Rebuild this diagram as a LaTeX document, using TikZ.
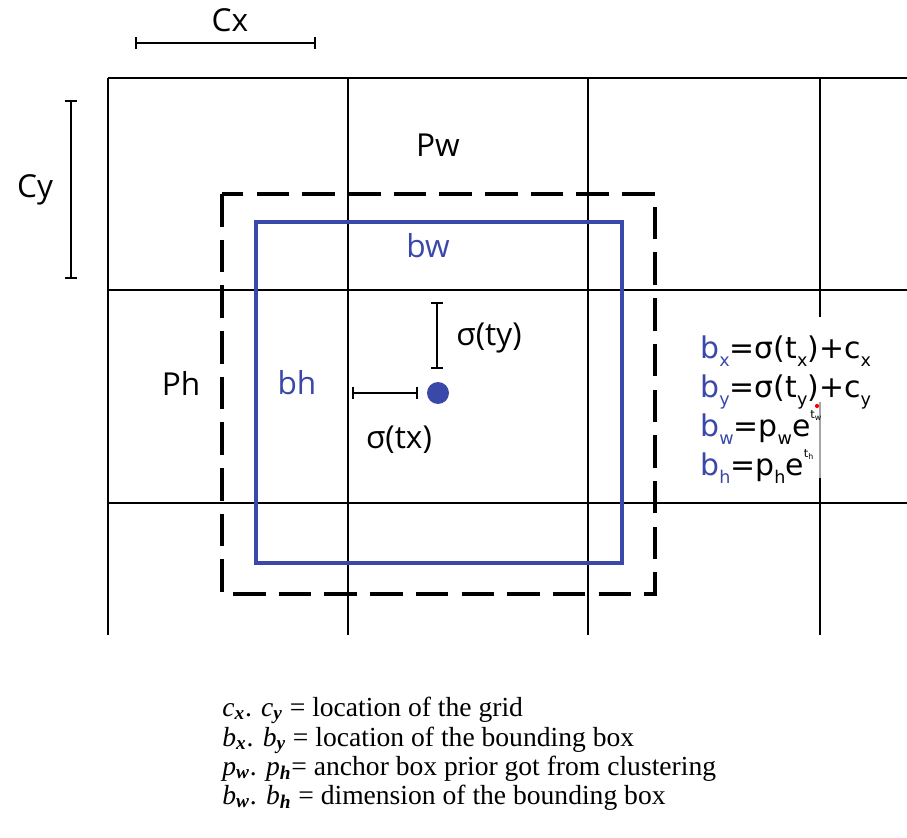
\documentclass[tikz,border=0pt]{standalone}
\usepackage{fontspec}
\setmainfont{Liberation Serif}
\newfontfamily\lblfont{Open Sans}
\newfontfamily\frmfont{DejaVu Sans}
\usetikzlibrary{arrows.meta}
\definecolor{boxblue}{RGB}{58,72,170}
\tikzset{
  gridline/.style={line width=1.1pt,black},
  anchorbox/.style={line width=2.8pt,black,dash pattern=on 18.5pt off 7.5pt},
  predbox/.style={line width=2.3pt,boxblue},
  dimbar/.style={line width=1pt,{Bar[width=7pt]}-{Bar[width=7pt]}},
  lbl/.style={font=\lblfont\fontsize{18}{20}\selectfont,inner sep=0pt},
  blbl/.style={lbl,text=boxblue},
  frm/.style={font=\frmfont\fontsize{17}{19}\selectfont,inner sep=0pt,anchor=base west},
  legend/.style={font=\fontsize{15.7}{17}\selectfont,inner sep=0pt,anchor=base west}
}
\newcommand{\bsub}[1]{\textsubscript{\textbf{\textit{#1}}}}
\newcommand{\fsub}[1]{\raisebox{-0.5ex}{\fontsize{10}{11}\selectfont #1}}
\newcommand{\fsup}[1]{\raisebox{1.1ex}{\fontsize{6.5}{7}\selectfont t\raisebox{-0.4ex}{\fontsize{4.5}{5}\selectfont #1}}}
\begin{document}
\begin{tikzpicture}[x=0.02cm,y=-0.02cm]
\useasboundingbox (0,0) rectangle (907,838);
% grid
\draw[gridline] (108,78) -- (907,78);
\draw[gridline] (108,290) -- (907,290);
\draw[gridline] (108,503) -- (907,503);
\draw[gridline] (108,78) -- (108,635);
\draw[gridline] (348,78) -- (348,635);
\draw[gridline] (588,78) -- (588,635);
\draw[gridline] (820,78) -- (820,317);
\draw[line width=0.8pt,gray!70] (820,402) -- (820,478);
\draw[gridline] (820,478) -- (820,635);
% boxes
\draw[anchorbox] (222,194) rectangle (655,594);
\draw[predbox] (256,222) rectangle (622,563);
% dimension bars
\coordinate (cxa) at (135,43); \coordinate (cxb) at (316,43);
\draw[dimbar] (cxa) -- (cxb);
\node[lbl] (cx) at (230,20) {Cx};
\coordinate (cya) at (71,100); \coordinate (cyb) at (71,279);
\draw[dimbar] (cya) -- (cyb);
\node[lbl] (cy) at (35,190) {Cy};
% labels
\node[lbl] (pw) at (438,145) {Pw};
\node[blbl] (bw) at (428,246) {bw};
\node[lbl] (ph) at (181,383) {Ph};
\node[blbl] (bh) at (297,383) {bh};
% centre and offsets
\node[circle,fill=boxblue,inner sep=0pt,minimum size=22*0.02cm] (ctr) at (438,393) {};
\coordinate (tya) at (437,302); \coordinate (tyb) at (437,369);
\draw[dimbar] (tya) -- (tyb);
\node[lbl] (sty) at (489,338) {σ(ty)};
\coordinate (txa) at (352,393); \coordinate (txb) at (418,393);
\draw[dimbar] (txa) -- (txb);
\node[lbl] (stx) at (399,440) {σ(tx)};
% formulas
\node[frm] (f1) at (700,358) {\textcolor{boxblue}{b\fsub{x}}=σ(t\fsub{x})+c\fsub{x}};
\node[frm] (f2) at (700,397) {\textcolor{boxblue}{b\fsub{y}}=σ(t\fsub{y})+c\fsub{y}};
\node[frm] (f3) at (700,436) {\textcolor{boxblue}{b\fsub{w}}=p\fsub{w}e\fsup{w}};
\node[frm] (f4) at (700,475) {\textcolor{boxblue}{b\fsub{h}}=p\fsub{h}e\fsup{h}};
\fill[red] (817,406) circle (1.2pt);
% legend
\node[legend] (l1) at (222,716) {\textit{c}\bsub{x}. \textit{c}\bsub{y} = location of the grid};
\node[legend] (l2) at (222,746) {\textit{b}\bsub{x}. \textit{b}\bsub{y} = location of the bounding box};
\node[legend] (l3) at (222,775) {\textit{p}\bsub{w}. \textit{p}\bsub{h}= anchor box prior got from clustering};
\node[legend] (l4) at (222,804) {\textit{b}\bsub{w}. \textit{b}\bsub{h} = dimension of the bounding box};
\end{tikzpicture}
\end{document}
